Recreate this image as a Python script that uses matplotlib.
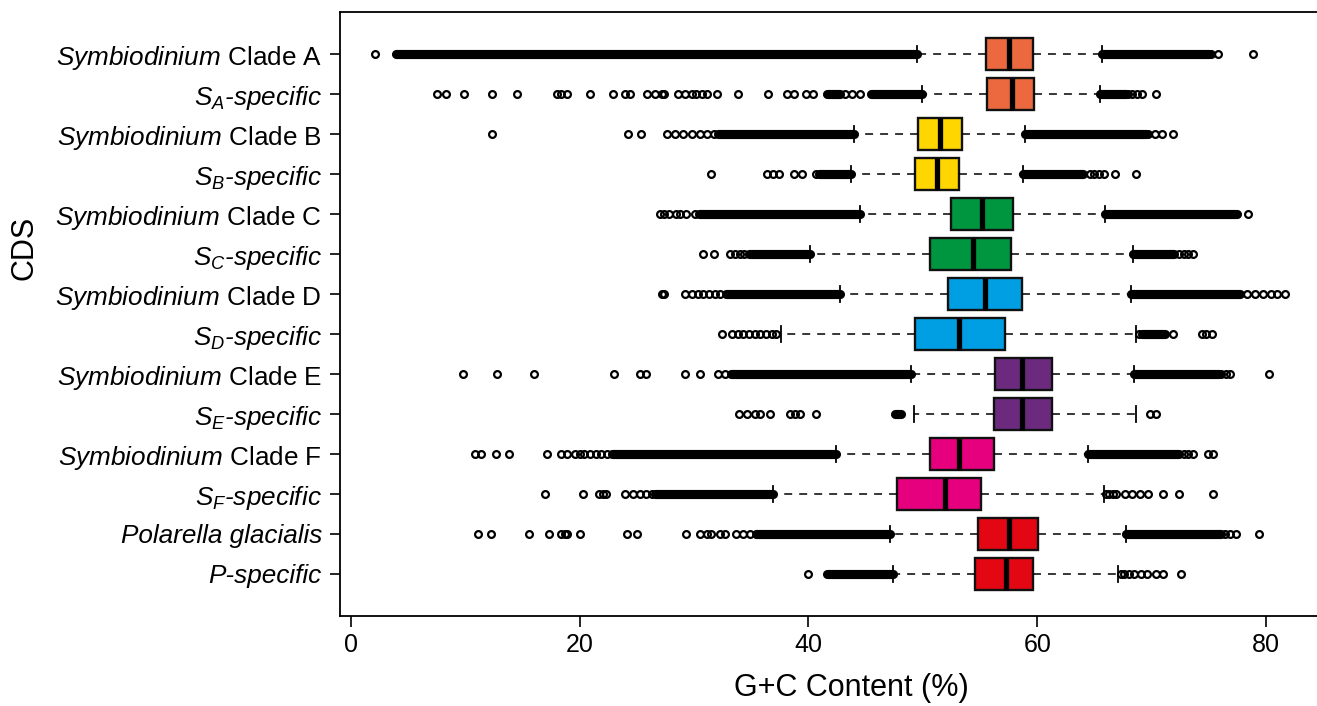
import matplotlib
matplotlib.use("Agg")
import matplotlib.pyplot as plt

plt.rcParams['font.family'] = ['Liberation Sans', 'DejaVu Sans']
plt.rcParams['mathtext.fontset'] = 'custom'
plt.rcParams['mathtext.rm'] = 'Liberation Sans'
plt.rcParams['mathtext.it'] = 'Liberation Sans:italic'
plt.rcParams['mathtext.bf'] = 'Liberation Sans:bold'

# ---------------- data ----------------
labels = [
    r"$\mathit{Symbiodinium}$ Clade A", r"$S_{A}$-specific",
    r"$\mathit{Symbiodinium}$ Clade B", r"$S_{B}$-specific",
    r"$\mathit{Symbiodinium}$ Clade C", r"$S_{C}$-specific",
    r"$\mathit{Symbiodinium}$ Clade D", r"$S_{D}$-specific",
    r"$\mathit{Symbiodinium}$ Clade E", r"$S_{E}$-specific",
    r"$\mathit{Symbiodinium}$ Clade F", r"$S_{F}$-specific",
    "Polarella glacialis", "P-specific",
]
label_italic = [False, True, False, True, False, True, False, True,
                False, True, False, True, True, True]

q1 = [55.5, 55.6, 49.6, 49.3, 52.5, 50.6, 52.2, 49.3, 56.3, 56.2, 50.6, 47.7, 54.8, 54.6]
med = [57.5, 57.8, 51.5, 51.2, 55.2, 54.4, 55.4, 53.2, 58.7, 58.7, 53.2, 51.9, 57.5, 57.3]
q3 = [59.6, 59.7, 53.4, 53.2, 57.9, 57.7, 58.7, 57.2, 61.3, 61.3, 56.2, 55.1, 60.1, 59.6]
whislo = [49.5, 49.9, 44.0, 43.7, 44.5, 40.1, 42.8, 37.6, 49.0, 49.2, 42.4, 36.9, 47.1, 47.4]
whishi = [65.7, 65.5, 58.9, 58.8, 65.9, 68.4, 68.2, 68.6, 68.5, 68.6, 64.4, 65.8, 67.8, 67.1]

box_colors = ["#EC693F", "#EC693F", "#FFD600", "#FFD600", "#009640", "#009640",
              "#009FE3", "#009FE3", "#6B2A7E", "#6B2A7E", "#E6007E", "#E6007E",
              "#E30613", "#E30613"]

# individually visible outliers per row
sparse_outliers = [
    [2.1, 75.2, 75.8, 78.9],
    [7.5, 8.3, 9.9, 12.3, 14.5, 18.0, 18.4, 18.9, 20.9, 22.9, 24.0, 24.4, 25.9, 26.6,
     27.2, 27.4, 28.6, 29.2, 29.8, 30.2, 30.7, 31.1, 32.0, 33.8, 36.5, 38.1, 38.7,
     39.8, 40.4, 43.2, 43.8, 44.5, 67.9, 68.3, 68.7, 69.2, 70.4],
    [12.3, 24.2, 25.4, 27.6, 28.3, 29.0, 29.8, 30.5, 31.1, 31.7, 69.7, 70.3, 70.9, 71.9],
    [31.5, 36.4, 36.9, 37.4, 38.7, 39.4, 40.7, 64.6, 65.0, 65.4, 65.8, 66.8, 68.6],
    [27.0, 27.4, 27.8, 28.4, 28.8, 29.3, 30.1, 78.4],
    [30.8, 31.7, 33.1, 33.6, 34.0, 34.4, 72.4, 72.8, 73.2, 73.6],
    [27.2, 27.4, 29.2, 29.8, 30.3, 30.8, 31.3, 31.8, 32.3, 78.3, 79.0, 79.7, 80.4, 81.0, 81.7],
    [32.4, 33.3, 33.8, 34.3, 34.8, 35.3, 35.8, 36.3, 36.8, 37.2, 68.9, 71.9, 74.4, 74.8, 75.3],
    [9.8, 12.8, 16.0, 23.0, 25.3, 25.8, 29.2, 30.5, 32.1, 32.7, 76.1, 76.5, 76.9, 80.3],
    [33.9, 34.6, 35.3, 35.8, 36.6, 38.4, 38.8, 39.3, 40.7, 69.9, 70.4],
    [10.8, 11.4, 12.7, 13.8, 17.1, 18.4, 18.9, 19.6, 20.0, 20.4, 20.9, 21.4, 21.9, 22.4,
     72.8, 73.2, 73.6, 74.9, 75.4],
    [17.0, 20.3, 21.7, 22.0, 22.3, 24.0, 24.7, 25.3, 25.8, 26.3,
     66.0, 66.3, 66.6, 66.9, 67.7, 68.3, 69.0, 69.7, 71.0, 72.4, 75.4],
    [11.1, 12.2, 15.6, 17.3, 18.4, 18.7, 18.9, 20.0, 24.1, 25.0, 29.3, 30.5, 31.1,
     31.5, 32.3, 32.7, 33.7, 34.3, 34.9, 76.4, 76.9, 77.4, 79.4],
    [40.0, 67.3, 67.6, 68.0, 68.5, 69.1, 69.6, 70.4, 71.0, 72.6],
]

# stretches where outliers overlap into a solid band (start, end)
dense_outlier_spans = [
    [(3.9, 49.5), (65.7, 75.0)],
    [(41.6, 42.8), (45.5, 49.9), (65.5, 67.8)],
    [(32.1, 44.0), (58.9, 69.5)],
    [(40.9, 43.7), (58.8, 64.0)],
    [(30.4, 44.5), (65.9, 77.5)],
    [(34.8, 40.1), (68.4, 72.0)],
    [(32.8, 42.8), (68.2, 77.7)],
    [(69.2, 71.2)],
    [(33.2, 49.0), (68.5, 75.9)],
    [(47.6, 48.1)],
    [(22.8, 42.4), (64.4, 72.4)],
    [(26.6, 36.9)],
    [(35.4, 47.1), (67.8, 76.1)],
    [(41.6, 47.4)],
]

xticks = [0, 20, 40, 60, 80]

# ---------------- figure ----------------
W, H = 1317, 706
fig = plt.figure(figsize=(W / 100, H / 100), dpi=100)
ax = fig.add_axes([340 / W, 1 - 616 / H, 990 / W, 604 / H])

positions = list(range(1, len(labels) + 1))
stats = [dict(label=labels[i], q1=q1[i], med=med[i], q3=q3[i],
              whislo=whislo[i], whishi=whishi[i], fliers=[])
         for i in range(len(labels))]

common = dict(positions=positions, widths=0.8, capwidths=0.4, patch_artist=True,
              showfliers=False, manage_ticks=False,
              boxprops=dict(edgecolor='#111111', linewidth=1.7),
              medianprops=dict(color='black', linewidth=3.8, solid_capstyle='butt'),
              whiskerprops=dict(color='black', linewidth=1.1, linestyle=(0, (5.2, 4.6))),
              capprops=dict(color='black', linewidth=1.3))
try:
    bp = ax.bxp(stats, orientation='horizontal', **common)
except TypeError:
    bp = ax.bxp(stats, vert=False, **common)

for patch, c in zip(bp['boxes'], box_colors):
    patch.set_facecolor(c)

for i, y in enumerate(positions):
    for (a, b) in dense_outlier_spans[i]:
        ax.plot([a, b], [y, y], color='black', lw=6.6, solid_capstyle='round', zorder=1)
    xs = sparse_outliers[i]
    ax.plot(xs, [y] * len(xs), linestyle='none', marker='o', ms=4.9, mew=1.6,
            mfc='none', mec='black', zorder=2)

ax.set_xlim(-0.96, 85.6)
ax.set_ylim(15.05, -0.05)
ax.set_xticks(xticks)
ax.set_xticklabels([str(t) for t in xticks])
ax.set_yticks(positions)
ax.set_yticklabels(labels)
for lab, it in zip(ax.get_yticklabels(), label_italic):
    if it:
        lab.set_fontstyle('italic')

ax.tick_params(axis='x', direction='out', length=8, width=1.2, labelsize=18, pad=4)
ax.tick_params(axis='y', direction='out', length=7, width=1.2, labelsize=18.8, pad=6)
for s in ['left', 'top', 'bottom']:
    ax.spines[s].set_linewidth(1.3)
ax.spines['right'].set_visible(False)

ax.set_xlabel("G+C Content (%)", fontsize=22)
ax.set_ylabel("CDS", fontsize=22)
ax.xaxis.set_label_coords((851 - 340) / 990, (616 - 688) / 604)
ax.xaxis.label.set_va('center')
ax.yaxis.set_label_coords((24 - 340) / 990, (616 - 248) / 604)
ax.yaxis.label.set_va('center')

fig.savefig("out.png", dpi=100)
